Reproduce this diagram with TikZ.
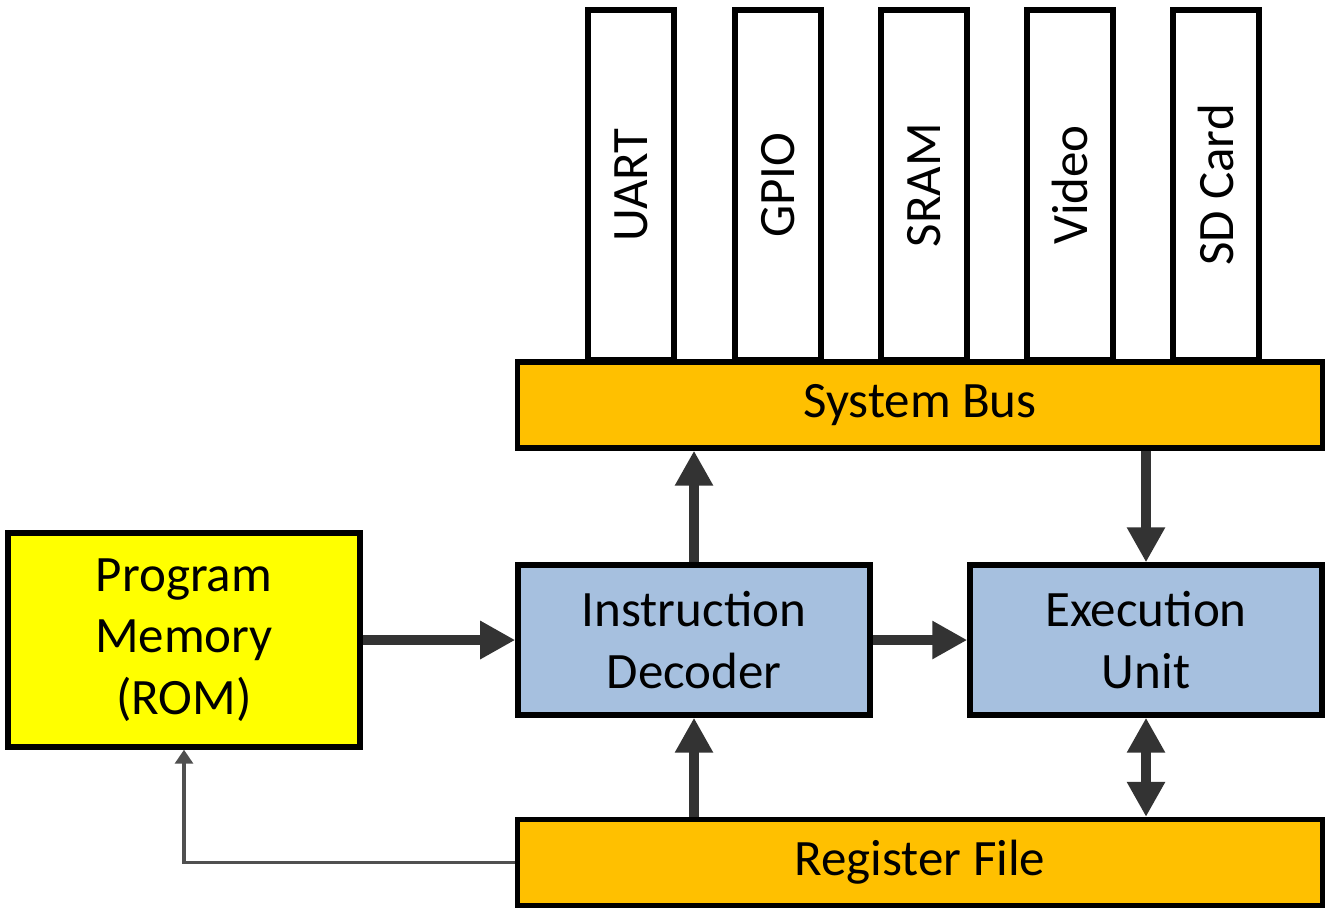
\documentclass[tikz,border=0pt]{standalone}
\usepackage{fontspec}
\setmainfont{Carlito}
\usetikzlibrary{arrows.meta}
\definecolor{giallo}{HTML}{FFFF00}
\definecolor{arancio}{HTML}{FFC000}
\definecolor{azzurro}{HTML}{A6C0DF}
\definecolor{grigio}{HTML}{333333}
\definecolor{grigiofilo}{HTML}{505050}

\begin{document}
\begin{tikzpicture}[
		x=0.01cm, y=-0.01cm,
		blocco/.style={draw=black, line width=1.5pt, inner sep=0pt, align=center,
			font=\fontsize{14.5}{17.5}\selectfont},
		periferica/.style={blocco, fill=white, rotate=90,
			minimum width=3.5cm, minimum height=0.86cm},
		barra/.style={blocco, fill=arancio, minimum width=8.04cm, minimum height=0.86cm},
		unita/.style={blocco, fill=azzurro, minimum width=3.52cm, minimum height=1.5cm},
		freccia/.style={line width=2.8pt, draw=grigio,
			-{Triangle[length=0.35cm, width=0.36cm]}},
		doppia/.style={freccia, {Triangle[length=0.35cm, width=0.36cm]}-{Triangle[length=0.35cm, width=0.36cm]}},
		filo/.style={line width=0.9pt, draw=grigiofilo,
			-{Triangle[length=0.14cm, width=0.18cm]}},
		]
	\useasboundingbox (0,0) rectangle (1325,908);
	
	%% periferiche sul bus ---------------------------------
	\foreach \nome/\x/\testo in {uart/631/UART, gpio/778/GPIO, sram/924/SRAM,
		video/1070/Video, sd/1216/SD Card}
	\node[periferica] (p\nome) at (\x,185) {\testo};
	
	%% bus e blocchi principali
	\node[barra] (bus) at (920,405) {System Bus};
	\node[blocco, fill=giallo, minimum width=3.52cm, minimum height=2.14cm]
	(rom) at (184,640) {Program\\Memory\\(ROM)};
	\node[unita] (dec) at (694,640) {Instruction\\Decoder};
	\node[unita] (exe) at (1146,640) {Execution\\Unit};
	\node[barra] (reg) at (920,862.5) {Register File};
	
	%% collegamenti
	\draw[freccia] (rom) -- (dec);
	\draw[freccia] (dec) -- (exe);
	\draw[freccia] (dec.north) -- (dec.north |- bus.south);
	\draw[freccia] (exe.north |- bus.south) -- (exe.north);
	\draw[freccia] (dec.south |- reg.north) -- (dec.south);
	\draw[doppia] (exe.south) -- (exe.south |- reg.north);
	\draw[filo] (reg.west) -| (rom.south);
	
\end{tikzpicture}
\end{document}
